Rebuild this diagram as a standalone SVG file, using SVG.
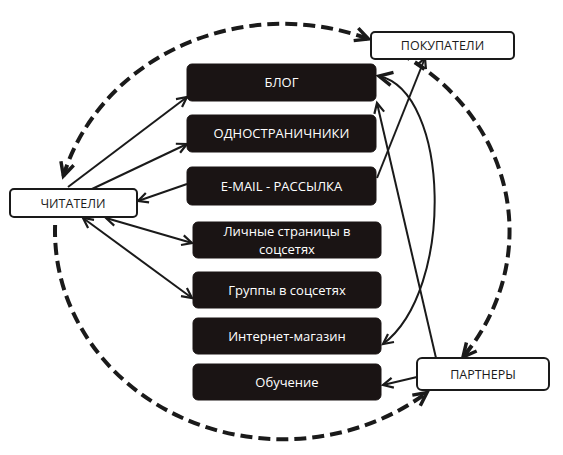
<svg xmlns="http://www.w3.org/2000/svg" width="563" height="455" viewBox="0 0 563 455">
<style>
.dark rect{fill:#1a1414;stroke:#1a1414;stroke-width:1}
.dark text{fill:#fff;font-family:"Open Sans","DejaVu Sans",sans-serif;font-size:13px;text-anchor:middle}
.light rect{fill:#fff;stroke:#1a1a1a;stroke-width:2}
.light text{fill:#1a1a1a;font-family:"Open Sans","DejaVu Sans",sans-serif;font-size:12.5px;text-anchor:middle}
.solid{fill:none;stroke:#1a1a1a;stroke-width:2}
.dash{fill:none;stroke:#1a1a1a;stroke-width:4;stroke-dasharray:12 6}
</style>
<defs>
<marker id="a" viewBox="0 0 12 12" refX="11" refY="6" markerWidth="6" markerHeight="6" orient="auto-start-reverse" markerUnits="userSpaceOnUse" overflow="visible">
<path d="M1,1 L11,6 L1,11" fill="none" stroke="#1a1a1a" stroke-width="2"/>
</marker>
<marker id="ad" viewBox="0 0 12 12" refX="11" refY="6" markerWidth="16" markerHeight="16" orient="auto-start-reverse" markerUnits="userSpaceOnUse" overflow="visible">
<path d="M1,1 L11,6 L1,11" fill="none" stroke="#1a1a1a" stroke-width="2.6"/>
</marker>
<marker id="as" viewBox="0 0 12 12" refX="11" refY="6" markerWidth="12" markerHeight="12" orient="auto-start-reverse" markerUnits="userSpaceOnUse" overflow="visible">
<path d="M1,1 L11,6 L1,11" fill="none" stroke="#1a1a1a" stroke-width="2.2"/>
</marker>
</defs>
<g id="connectors">
<path class="dash" d="M63.4,176 A228,208 0 0 1 368.5,39" marker-start="url(#ad)" marker-end="url(#ad)"/>
<path class="dash" d="M399.4,53 A228,208 0 0 1 463,357" marker-end="url(#ad)"/>
<path class="dash" d="M55.1,225 A228,208 0 0 0 427,392.5" marker-end="url(#ad)"/>
<path class="solid" d="M68,187 L187,97" marker-end="url(#as)"/>
<path class="solid" d="M92,189 L187,144" marker-end="url(#as)"/>
<path class="solid" d="M187,184 L138,201" marker-end="url(#as)"/>
<path class="solid" d="M106,218 L192,243" marker-start="url(#as)" marker-end="url(#as)"/>
<path class="solid" d="M83,218 L192,298" marker-start="url(#as)" marker-end="url(#as)"/>
<path class="solid" d="M377,178 L425,58" marker-end="url(#as)"/>
<path class="solid" d="M436,358 L377,103" marker-end="url(#as)"/>
<path class="solid" d="M379,76 C450,92 455,290 383,344" marker-start="url(#ad)" marker-end="url(#as)"/>
<path class="solid" d="M417,377 L383,385" marker-end="url(#as)"/>
</g>
<g id="blog" class="dark"><rect x="187" y="64" width="189" height="37" rx="5"/><text x="281.5" y="87">БЛОГ</text></g>
<g id="odnostranichniki" class="dark"><rect x="187" y="115" width="189" height="37" rx="5"/><text x="281.5" y="138">ОДНОСТРАНИЧНИКИ</text></g>
<g id="email" class="dark"><rect x="187" y="167" width="189" height="38" rx="5"/><text x="281.5" y="191">E-MAIL - РАССЫЛКА</text></g>
<g id="lichnye" class="dark"><rect x="193" y="222" width="188" height="36" rx="5"/><text x="287" y="236">Личные страницы в</text><text x="287" y="254">соцсетях</text></g>
<g id="gruppy" class="dark"><rect x="193" y="272" width="188" height="36" rx="5"/><text x="287" y="295">Группы в соцсетях</text></g>
<g id="magazin" class="dark"><rect x="193" y="318" width="188" height="36" rx="5"/><text x="287" y="341">Интернет-магазин</text></g>
<g id="obuchenie" class="dark"><rect x="193" y="364" width="188" height="36" rx="5"/><text x="287" y="387">Обучение</text></g>
<g id="chitateli" class="light"><rect x="10" y="189" width="127" height="28" rx="4"/><text x="73" y="207.5">ЧИТАТЕЛИ</text></g>
<g id="pokupateli" class="light"><rect x="371" y="32" width="143" height="27" rx="4"/><text x="442.5" y="50">ПОКУПАТЕЛИ</text></g>
<g id="partnery" class="light"><rect x="417" y="358" width="132" height="32" rx="5"/><text x="483" y="378.5">ПАРТНЕРЫ</text></g>
</svg>
